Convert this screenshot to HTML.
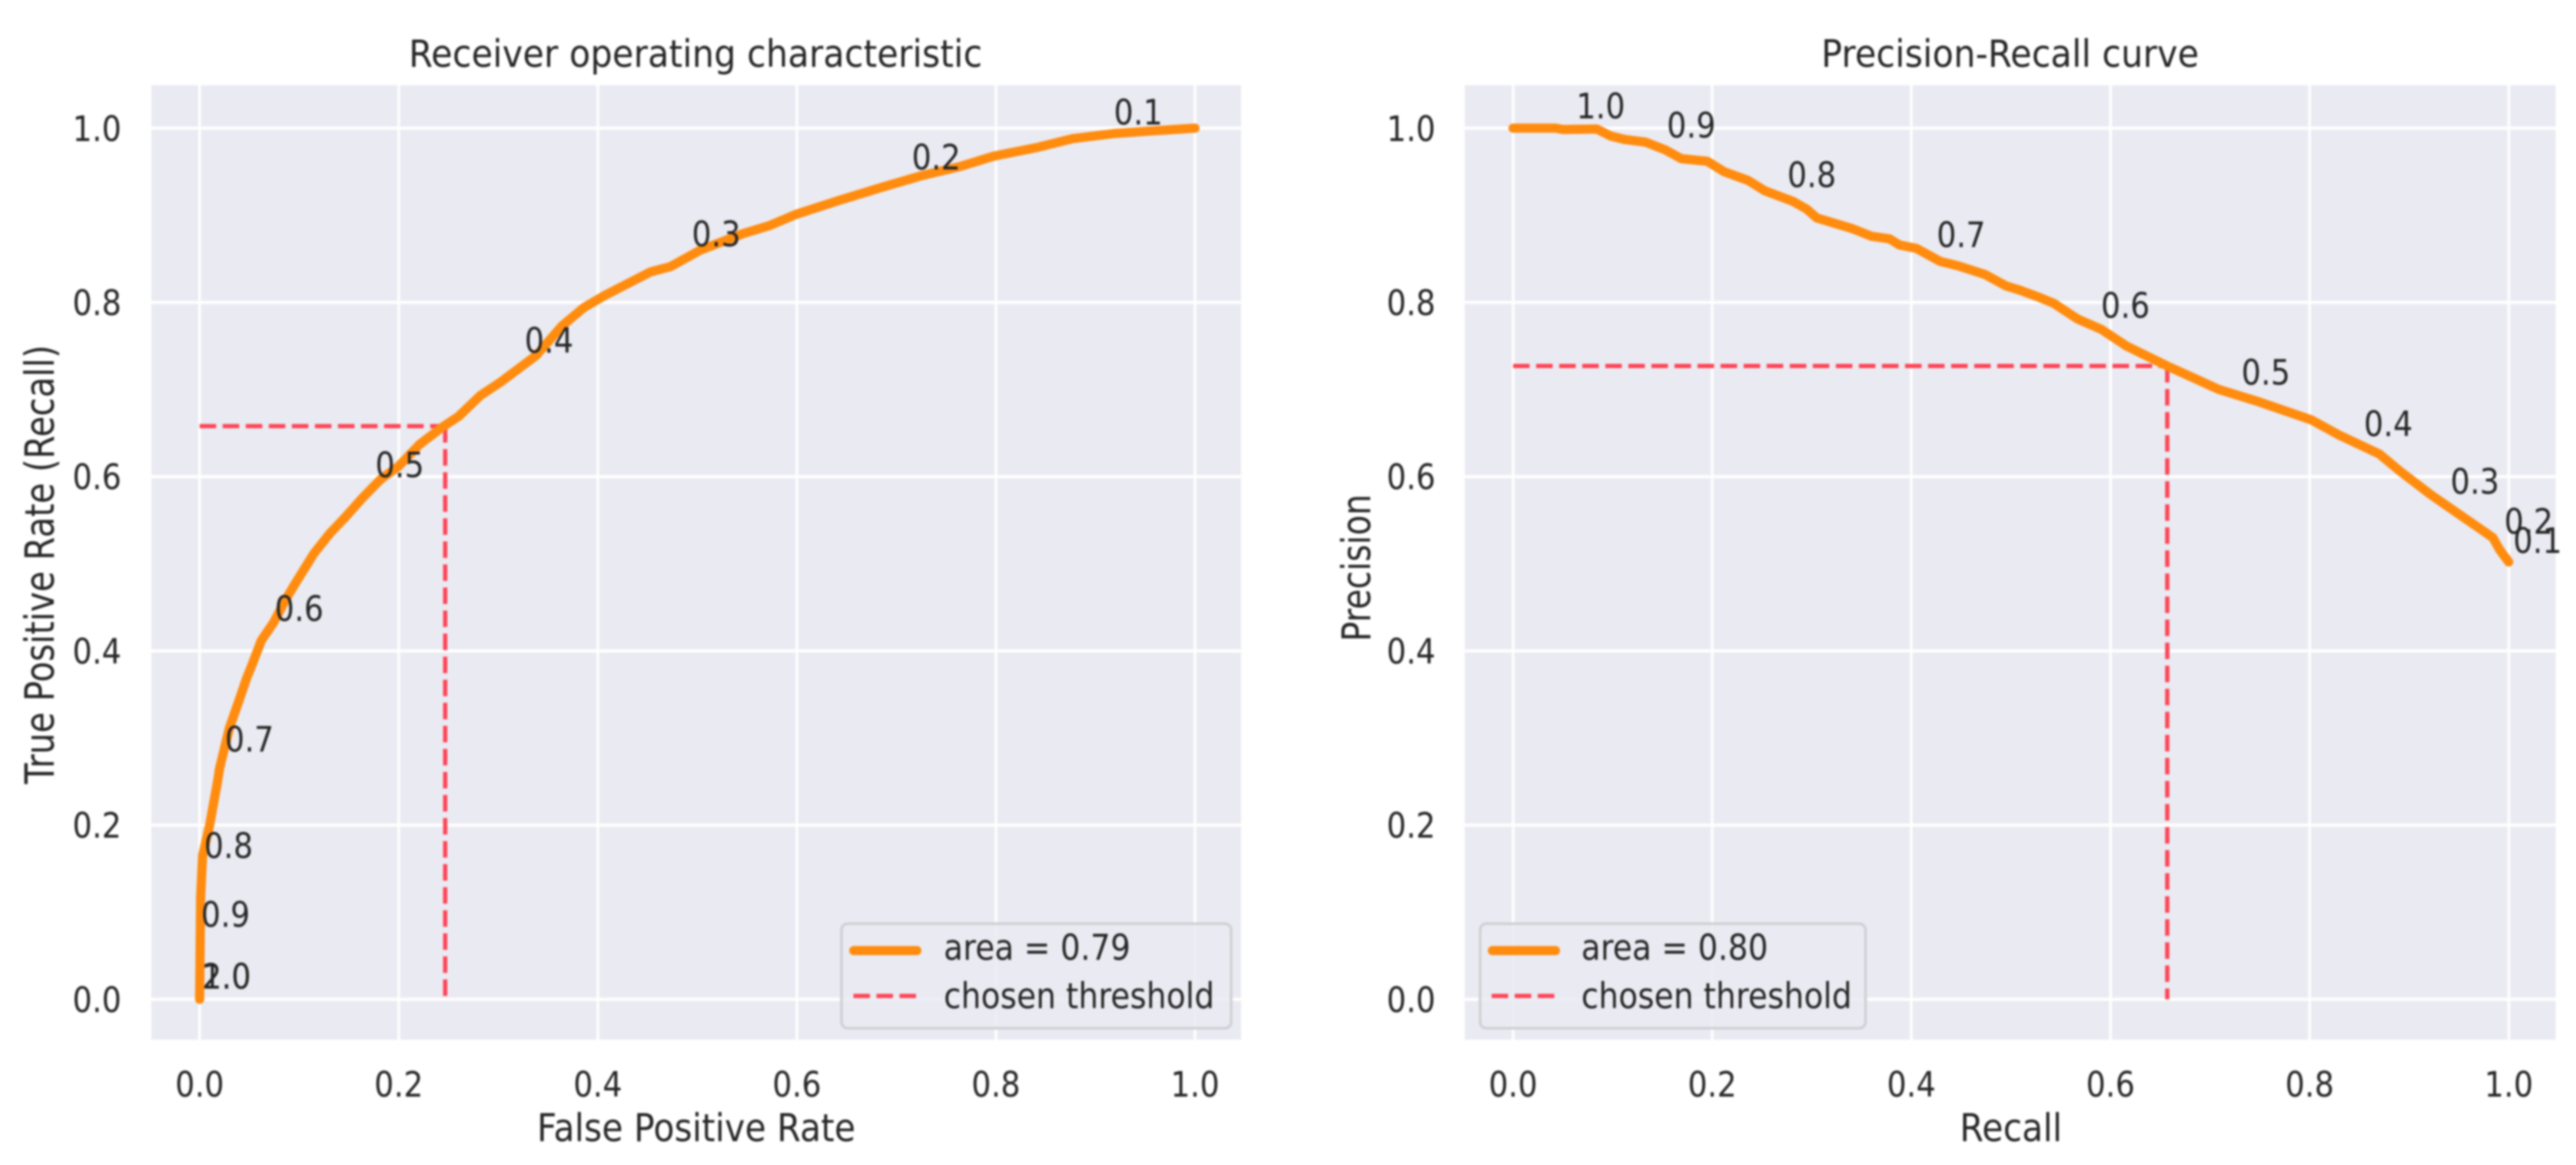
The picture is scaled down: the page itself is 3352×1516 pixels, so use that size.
<!DOCTYPE html>
<html lang="en">
<head>
<meta charset="utf-8">
<title>ROC and Precision-Recall curves</title>
<style>
  html, body { margin: 0; padding: 0; background: #fff; }
  #figure { display: block; width: 3352px; height: 1516px; filter: blur(1.4px); }
  text { font-family: "DejaVu Sans", "Liberation Sans", sans-serif; fill: #262626; }
</style>
</head>
<body>
<svg id="figure" xmlns="http://www.w3.org/2000/svg" width="3352" height="1516" viewBox="0 0 3352 1516">
  <rect x="0" y="0" width="3352" height="1516" fill="#ffffff"/>

  <g id="roc-chart">
    <rect x="197" y="111" width="1418" height="1242" fill="#eaeaf2"/>
    <g id="roc-grid"></g>
    <g id="roc-thresholds"></g>
    <g id="roc-curve"></g>
    <g id="roc-ticks"></g>
    <g id="roc-annotations"></g>
    <text text-anchor="middle" font-size="45" transform="translate(905,87) scale(1,1.09)">Receiver operating characteristic</text>
    <text text-anchor="middle" font-size="44.6" transform="translate(906,1485) scale(1,1.12)">False Positive Rate</text>
    <text text-anchor="middle" font-size="44" transform="translate(70,734.5) rotate(-90) scale(1,1.2)">True Positive Rate (Recall)</text>
    <g>
      <rect x="1095" y="1202" width="507" height="136" rx="8" fill="#eaeaf2" fill-opacity="0.85" stroke="#cfcfd4" stroke-width="3.5"/>
      <line x1="1111" y1="1237" x2="1193" y2="1237" stroke="#ff8c0f" stroke-width="12" stroke-linecap="round"/>
      <text font-size="41" transform="translate(1228,1249) scale(1,1.13)">area = 0.79</text>
      <line x1="1110.5" y1="1296" x2="1192.5" y2="1296" stroke="#ff4455" stroke-width="5.5" stroke-dasharray="21.5 8.5"/>
      <text font-size="41" transform="translate(1228,1312) scale(1,1.13)">chosen threshold</text>
    </g>
  </g>

  <g id="pr-chart">
    <rect x="1906" y="111" width="1419.5" height="1242" fill="#eaeaf2"/>
    <g id="pr-grid"></g>
    <g id="pr-thresholds"></g>
    <g id="pr-curve"></g>
    <g id="pr-ticks"></g>
    <g id="pr-annotations"></g>
    <text text-anchor="middle" font-size="45" transform="translate(2615.6,87) scale(1,1.09)">Precision-Recall curve</text>
    <text text-anchor="middle" font-size="44.6" transform="translate(2616.7,1485) scale(1,1.12)">Recall</text>
    <text text-anchor="middle" font-size="43" transform="translate(1783,739) rotate(-90) scale(1,1.2)">Precision</text>
    <g>
      <rect x="1926" y="1202" width="501.5" height="136" rx="8" fill="#eaeaf2" fill-opacity="0.85" stroke="#cfcfd4" stroke-width="3.5"/>
      <line x1="1942" y1="1237" x2="2024" y2="1237" stroke="#ff8c0f" stroke-width="12" stroke-linecap="round"/>
      <text font-size="41" transform="translate(2057.6,1249) scale(1,1.13)">area = 0.80</text>
      <line x1="1941" y1="1296" x2="2023" y2="1296" stroke="#ff4455" stroke-width="5.5" stroke-dasharray="21.5 8.5"/>
      <text font-size="41" transform="translate(2057.6,1312) scale(1,1.13)">chosen threshold</text>
    </g>
  </g>
</svg>

<script>
// Axis ticks
const tickValues = [0, 0.2, 0.4, 0.6, 0.8, 1.0];
const tickLabels = ["0.0", "0.2", "0.4", "0.6", "0.8", "1.0"];

// ROC curve series
const rocFpr = [0, 0.001, 0.003, 0.010, 0.018, 0.020, 0.030, 0.039, 0.047, 0.053, 0.062, 0.074, 0.088, 0.097, 0.115, 0.131, 0.146, 0.164, 0.182, 0.200, 0.221, 0.244, 0.260, 0.282, 0.303, 0.338, 0.364, 0.386, 0.407, 0.453, 0.473, 0.503, 0.546, 0.572, 0.599, 0.642, 0.685, 0.724, 0.764, 0.798, 0.842, 0.877, 0.920, 0.959, 1.0];
const rocTpr = [0, 0.118, 0.165, 0.200, 0.250, 0.265, 0.312, 0.341, 0.368, 0.385, 0.412, 0.432, 0.462, 0.479, 0.512, 0.535, 0.553, 0.576, 0.597, 0.612, 0.637, 0.657, 0.669, 0.693, 0.709, 0.739, 0.773, 0.794, 0.808, 0.835, 0.841, 0.860, 0.879, 0.888, 0.901, 0.917, 0.932, 0.945, 0.956, 0.968, 0.978, 0.988, 0.994, 0.997, 1.0];

// ROC threshold annotations
const rocAnnotationLabels = ["0.1", "0.2", "0.3", "0.4", "0.5", "0.6", "0.7", "0.8", "0.9", "1.0", "2.0"];
const rocAnnotationFpr = [0.943, 0.740, 0.519, 0.351, 0.201, 0.100, 0.050, 0.029, 0.026, 0.027, 0.027];
const rocAnnotationTpr = [1.019, 0.967, 0.879, 0.757, 0.614, 0.449, 0.299, 0.177, 0.098, 0.027, 0.027];

// ROC chosen threshold
const rocChosenFpr = 0.2467;
const rocChosenTpr = 0.658;

// Precision-recall curve series
const prRecall = [0, 0.043, 0.050, 0.084, 0.098, 0.112, 0.133, 0.153, 0.169, 0.195, 0.212, 0.236, 0.253, 0.281, 0.295, 0.305, 0.340, 0.360, 0.378, 0.388, 0.405, 0.429, 0.447, 0.474, 0.495, 0.509, 0.528, 0.543, 0.567, 0.591, 0.616, 0.657, 0.684, 0.709, 0.746, 0.802, 0.829, 0.870, 0.891, 0.922, 0.960, 0.984, 0.991, 1.0];
const prPrecision = [1.0, 1.0, 0.9985, 0.999, 0.991, 0.987, 0.984, 0.975, 0.965, 0.962, 0.950, 0.940, 0.928, 0.916, 0.907, 0.897, 0.885, 0.876, 0.873, 0.866, 0.862, 0.847, 0.842, 0.832, 0.819, 0.814, 0.806, 0.799, 0.781, 0.769, 0.750, 0.727, 0.713, 0.700, 0.687, 0.665, 0.648, 0.626, 0.606, 0.579, 0.549, 0.530, 0.516, 0.502];

// Precision-recall threshold annotations
const prAnnotationLabels = ["1.0", "0.9", "0.8", "0.7", "0.6", "0.5", "0.4", "0.3", "0.2", "0.1"];
const prAnnotationRecall = [0.088, 0.179, 0.300, 0.450, 0.615, 0.756, 0.879, 0.966, 1.020, 1.029];
const prAnnotationPrecision = [1.026, 1.004, 0.947, 0.878, 0.797, 0.720, 0.661, 0.595, 0.549, 0.527];

// Precision-recall chosen threshold
const prChosenRecall = 0.657;
const prChosenPrecision = 0.727;

const SVG_NS = "http://www.w3.org/2000/svg";
const TEXT_STRETCH = 1.13;
const DIGIT_HALF_HEIGHT = 16.5;

function rocX(v) { return 259.8 + v * 1295.2; }
function prX(v) { return 1968.9 + v * 1295.6; }
function valueY(v) { return 1300.4 - v * 1133.6; }

function svgEl(tag, parent, attrs) {
  const el = document.createElementNS(SVG_NS, tag);
  for (const key in attrs) el.setAttribute(key, attrs[key]);
  parent.appendChild(el);
  return el;
}

function placeText(el, x, y) {
  el.setAttribute("transform", "translate(" + x + "," + y + ") scale(1," + TEXT_STRETCH + ")");
}

function drawGrid(prefix, xScale, left, right) {
  const grid = document.getElementById(prefix + "-grid");
  tickValues.forEach(function (tick) {
    const vLine = svgEl("line", grid, { x1: xScale(tick), x2: xScale(tick), y1: 111, y2: 1353, stroke: "#ffffff", "stroke-width": 3.5 });
    
    
    const hLine = svgEl("line", grid, { x1: left, x2: right, y1: valueY(tick), y2: valueY(tick), stroke: "#ffffff", "stroke-width": 4 });
    
    
  });
}

function drawTicks(prefix, xScale, yLabelRight) {
  const group = document.getElementById(prefix + "-ticks");
  tickValues.forEach(function (tick, i) {
    const xLabel = svgEl("text", group, { "text-anchor": "middle", "font-size": 40 });
    xLabel.textContent = tickLabels[i];
    placeText(xLabel, xScale(tick), 1427);
    
    
    const yLabel = svgEl("text", group, { "text-anchor": "end", "font-size": 40 });
    yLabel.textContent = tickLabels[i];
    placeText(yLabel, yLabelRight, valueY(tick) + DIGIT_HALF_HEIGHT);
    
    
  });
}

function drawThreshold(prefix, xScale, chosenX, chosenY) {
  const group = document.getElementById(prefix + "-thresholds");
  const style = { stroke: "#ff4455", "stroke-width": 5.5, "stroke-dasharray": "21.5 8.5", fill: "none" };
  const hDash = svgEl("line", group, Object.assign({ x1: xScale(0), x2: xScale(chosenX), y1: valueY(chosenY), y2: valueY(chosenY) }, style));
  
  
  const vDash = svgEl("line", group, Object.assign({ x1: xScale(chosenX), x2: xScale(chosenX), y1: valueY(chosenY), y2: valueY(0) }, style));
  
  
}

function drawCurve(prefix, xScale, xs, ys) {
  const group = document.getElementById(prefix + "-curve");
  const points = xs.map(function (x, i) { return xScale(x).toFixed(1) + "," + valueY(ys[i]).toFixed(1); }).join(" ");
  const curve = svgEl("polyline", group, { points: points, fill: "none", stroke: "#ff8c0f", "stroke-width": 12, "stroke-linecap": "round", "stroke-linejoin": "round" });
  
  
}

function drawAnnotations(prefix, xScale, labels, xs, ys) {
  const group = document.getElementById(prefix + "-annotations");
  labels.forEach(function (label, i) {
    const t = svgEl("text", group, { "text-anchor": "middle", "font-size": 40 });
    t.textContent = label;
    placeText(t, xScale(xs[i]), valueY(ys[i]) + DIGIT_HALF_HEIGHT);
    
    
  });
}

drawGrid("roc", rocX, 197, 1615);
drawThreshold("roc", rocX, rocChosenFpr, rocChosenTpr);
drawCurve("roc", rocX, rocFpr, rocTpr);
drawTicks("roc", rocX, 158);
drawAnnotations("roc", rocX, rocAnnotationLabels, rocAnnotationFpr, rocAnnotationTpr);

drawGrid("pr", prX, 1906, 3325.5);
drawThreshold("pr", prX, prChosenRecall, prChosenPrecision);
drawCurve("pr", prX, prRecall, prPrecision);
drawTicks("pr", prX, 1868);
drawAnnotations("pr", prX, prAnnotationLabels, prAnnotationRecall, prAnnotationPrecision);
</script>
</body>
</html>
